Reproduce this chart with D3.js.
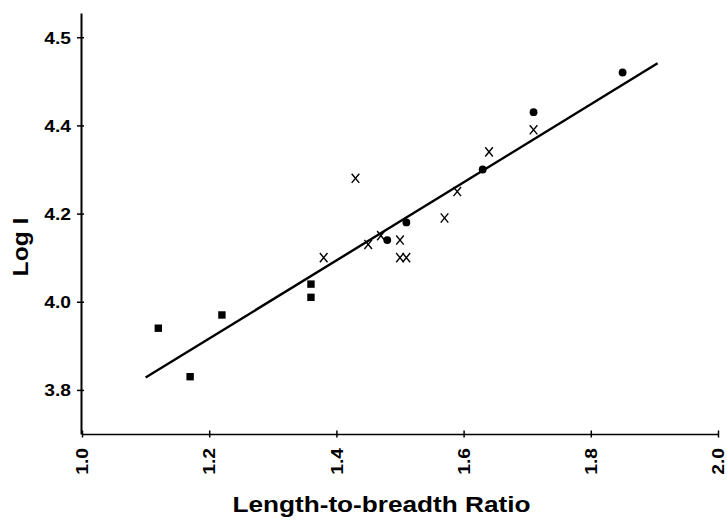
<!DOCTYPE html>
<html>
<head>
<meta charset="utf-8">
<script src="https://cdn.jsdelivr.net/npm/d3@7"></script>
<style>
  html, body { margin: 0; padding: 0; background: #fff; }
  svg { display: block; }
  text { font-family: "Liberation Sans", Arial, Helvetica, sans-serif; font-weight: bold; fill: #000; }
</style>
</head>
<body>
<svg id="chart" width="727" height="520"></svg>
<script>
// ---- data ----
const squareX = [1.12, 1.17, 1.22, 1.36, 1.36];
const squareY = [3.94, 3.83, 3.97, 4.04, 4.01];

const crossX = [1.38, 1.43, 1.45, 1.47, 1.50, 1.50, 1.51, 1.57, 1.59, 1.64, 1.71];
const crossY = [4.10, 4.28, 4.13, 4.15, 4.14, 4.10, 4.10, 4.19, 4.25, 4.34, 4.39];

const circleX = [1.48, 1.51, 1.63, 1.71, 1.85];
const circleY = [4.14, 4.18, 4.30, 4.43, 4.52];

const fitX = [1.10, 1.905];
const fitY = [3.828, 4.541];

const xTicks = [1.0, 1.2, 1.4, 1.6, 1.8, 2.0];
const xTickLabels = ["1.0", "1.2", "1.4", "1.6", "1.8", "2.0"];
const yTicks = [3.8, 4.0, 4.2, 4.4, 4.6];
const yTickLabels = ["3.8", "4.0", "4.2", "4.4", "4.5"];

const xTitle = "Length-to-breadth Ratio";
const yTitle = "Log I";

// ---- drawing ----
const svg = d3.select("#chart");
const x = d3.scaleLinear().domain([1.0, 2.0]).range([82, 718]);
const y = d3.scaleLinear().domain([3.7, 4.655]).range([434, 13]);

const STRETCH = 1.2;
function stretch(sel, k) {
  sel.each(function () {
    const w = this.getComputedTextLength();
    d3.select(this).attr("textLength", w * k).attr("lengthAdjust", "spacingAndGlyphs");
  });
}

// Y axis
const yAxis = d3.axisLeft(y)
  .tickValues(yTicks)
  .tickFormat((d, i) => yTickLabels[i])
  .tickSizeInner(0).tickSizeOuter(0).tickPadding(10);
const gy = svg.append("g").attr("transform", `translate(${x(1.0) - 1},0)`).call(yAxis);
gy.select(".domain").attr("stroke", "#000").attr("stroke-width", 2);
gy.selectAll(".tick line").attr("x1", -4).attr("x2", 3).attr("stroke", "#000").attr("stroke-width", 1.5);
gy.selectAll(".tick text")
  .attr("font-size", 16).attr("font-family", null).attr("font-weight", "bold")
  .attr("x", -10).attr("dy", "0.36em");
stretch(gy.selectAll(".tick text"), STRETCH);

// X axis
const xAxis = d3.axisBottom(x)
  .tickValues(xTicks)
  .tickFormat((d, i) => xTickLabels[i])
  .tickSizeInner(0).tickSizeOuter(0);
const gx = svg.append("g").attr("transform", `translate(0,${y(3.7)})`).call(xAxis);
gx.select(".domain").attr("stroke", "#000").attr("stroke-width", 1.6);
gx.selectAll(".tick line").attr("y1", -3.5).attr("y2", 3.5).attr("stroke", "#000").attr("stroke-width", 1.5);
gx.selectAll(".tick text")
  .attr("font-size", 16).attr("font-family", null).attr("font-weight", "bold")
  .attr("text-anchor", "end")
  .attr("y", 0).attr("dy", "0.36em")
  .attr("transform", "translate(0,14) rotate(-90)");
stretch(gx.selectAll(".tick text"), STRETCH);

// Regression line
svg.append("path")
  .datum(fitX.map((d, i) => [d, fitY[i]]))
  .attr("fill", "none").attr("stroke", "#000").attr("stroke-width", 2.4)
  .attr("d", d3.line().x(d => x(d[0])).y(d => y(d[1])));

// Squares
const sq = 7.4;
svg.append("g").selectAll("rect")
  .data(squareX.map((d, i) => [d, squareY[i]]))
  .join("rect")
  .attr("x", d => x(d[0]) - sq / 2).attr("y", d => y(d[1]) - sq / 2)
  .attr("width", sq).attr("height", sq).attr("fill", "#000");

// Circles
svg.append("g").selectAll("circle")
  .data(circleX.map((d, i) => [d, circleY[i]]))
  .join("circle")
  .attr("cx", d => x(d[0])).attr("cy", d => y(d[1])).attr("r", 3.9).attr("fill", "#000");

// Crosses
const cw = 3.8, ch = 4.6;
svg.append("g").selectAll("path")
  .data(crossX.map((d, i) => [d, crossY[i]]))
  .join("path")
  .attr("fill", "none").attr("stroke", "#000").attr("stroke-width", 1.4)
  .attr("d", d => {
    const cx = x(d[0]), cy = y(d[1]);
    return `M${cx - cw},${cy - ch}L${cx + cw},${cy + ch}M${cx + cw},${cy - ch}L${cx - cw},${cy + ch}`;
  });

// Axis titles
const xt = svg.append("text")
  .attr("x", 381.5).attr("y", 512)
  .attr("text-anchor", "middle").attr("font-size", 22)
  .text(xTitle);
stretch(xt, 1.19);

const yt = svg.append("text")
  .attr("transform", "translate(28,247) rotate(-90)")
  .attr("text-anchor", "middle").attr("font-size", 22)
  .text(yTitle);
stretch(yt, 1.12);
</script>
</body>
</html>
